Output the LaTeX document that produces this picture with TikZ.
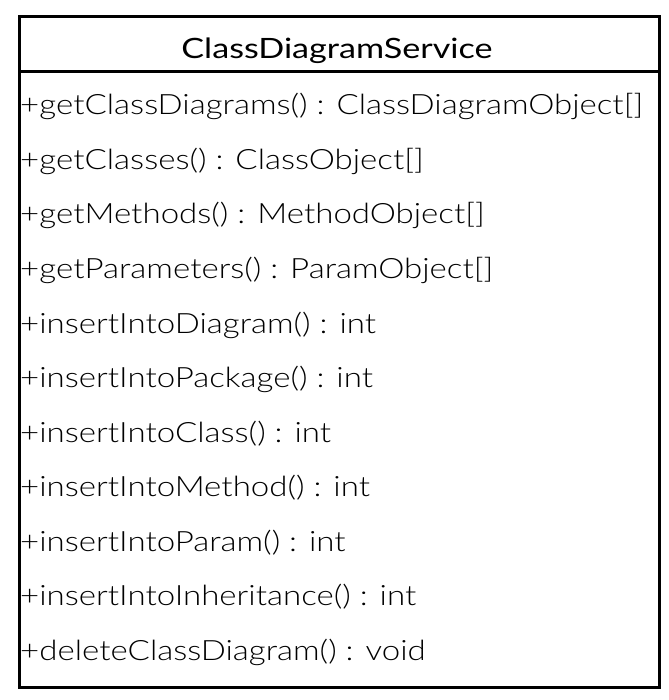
\documentclass[tikz,border=0pt]{standalone}
\usepackage{fontspec}
\setmainfont{Lato}[UprightFont=* Light,FakeStretch=1.18]
\newfontfamily\titlefont{Lato}[FakeStretch=1.22]
\begin{document}
\begin{tikzpicture}[x=1pt,y=-1pt,
  member/.style={anchor=base west,inner sep=0pt,font=\fontsize{28}{30}\selectfont},
  title/.style={anchor=base,inner sep=0pt,font=\titlefont\fontsize{28}{30}\selectfont},
  boxline/.style={line width=3pt}]
\useasboundingbox (0,0) rectangle (668,700);
\draw[boxline] (19.5,16.5) rectangle (659.5,687.5);
\draw[boxline] (19.5,71.5) -- (659.5,71.5);
\node[title] (t) at (337,58.3) {ClassDiagramService};
\node[member] (m1) at (20,115) {+getClassDiagrams() : ClassDiagramObject[]};
\node[member] (m2) at (20,169.5) {+getClasses() : ClassObject[]};
\node[member] (m3) at (20,224) {+getMethods() : MethodObject[]};
\node[member] (m4) at (20,278.5) {+getParameters() : ParamObject[]};
\node[member] (m5) at (20,333) {+insertIntoDiagram() : int};
\node[member] (m6) at (20,387.5) {+insertIntoPackage() : int};
\node[member] (m7) at (20,442) {+insertIntoClass() : int};
\node[member] (m8) at (20,496.5) {+insertIntoMethod() : int};
\node[member] (m9) at (20,551) {+insertIntoParam() : int};
\node[member] (m10) at (20,605.5) {+insertIntoInheritance() : int};
\node[member] (m11) at (20,660) {+deleteClassDiagram() : void};
\end{tikzpicture}
\end{document}
